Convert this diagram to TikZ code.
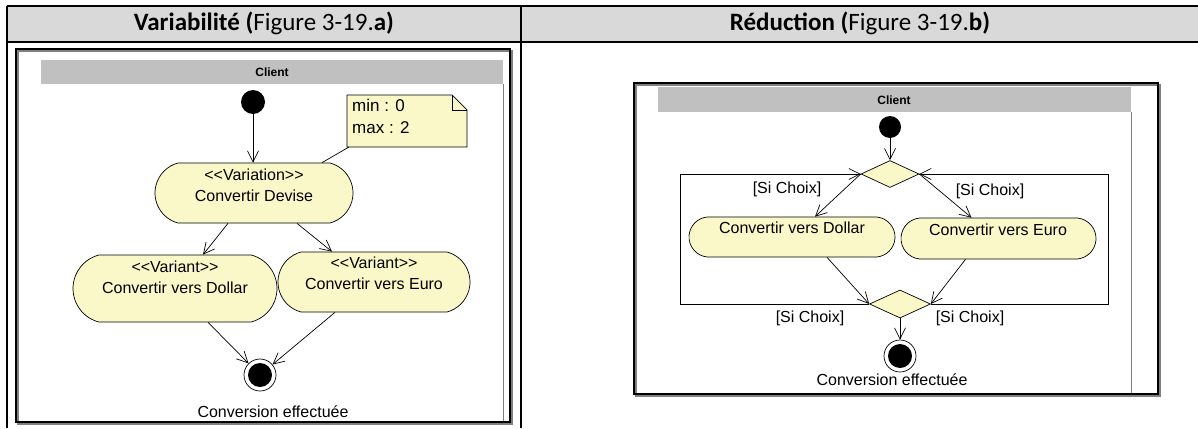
\documentclass[tikz,border=0pt]{standalone}
\usepackage{fontspec}
\setmainfont{Liberation Sans}
\newfontfamily\hdr{Carlito}
\usetikzlibrary{arrows.meta,shapes.geometric,shapes.misc}
\definecolor{hdrgray}{RGB}{217,217,217}
\definecolor{bargray}{RGB}{192,192,192}
\definecolor{actfill}{RGB}{250,248,200}
\definecolor{shadecol}{RGB}{128,128,128}
\newcommand\stereo[1]{<\kern0pt<#1>\kern0pt>}
\begin{document}
\begin{tikzpicture}[x=1pt,y=-1pt,
  act/.style={rounded rectangle, rounded rectangle arc length=150, draw=black, line width=0.7pt, fill=actfill, inner sep=0pt},
  txt/.style={font=\fontsize{16}{21}\selectfont, align=center, inner sep=0pt},
  notetxt/.style={font=\fontsize{17}{22}\selectfont, align=left, inner sep=0pt},
  clienttxt/.style={font=\bfseries\fontsize{12}{14}\selectfont, inner sep=0pt},
  hdrtxt/.style={font=\hdr\fontsize{25}{30}\selectfont, inner sep=0pt},
  arr/.style={line width=0.7pt, -{Straight Barb[length=11pt,width=11pt,line width=0.7pt]}},
  initnode/.style={circle, fill=black, inner sep=0pt, minimum size=24pt},
  finalnode/.style={circle, draw=black, fill=white, line width=0.7pt, inner sep=0pt, minimum size=32pt,
     path picture={\fill[black] (path picture bounding box.center) circle (12pt);}},
  dec/.style={diamond, draw=black, fill=actfill, line width=0.7pt, inner sep=0pt},
  tbl/.style={line width=1.5pt, draw=black},
  panelframe/.style={line width=2pt, draw=black},
  shadowline/.style={line width=1.5pt, draw=shadecol},
  lane/.style={line width=1pt, draw=shadecol},
  thinline/.style={line width=0.7pt, draw=black}
]
\useasboundingbox (0,0) rectangle (1198,428);
\fill[white] (0,0) rectangle (1198,428);

% ---------- table ----------
\fill[hdrgray] (7,6) rectangle (1198,42);
\draw[tbl] (7,6) -- (1198,6);
\draw[tbl] (7,42) -- (1198,42);
\draw[tbl] (7,6) -- (7,428);
\draw[tbl] (521,6) -- (521,428);
\node[hdrtxt] (h1) at (264,23) {\textbf{Variabilité (}Figure 3-19.\textbf{a)}};
\node[hdrtxt] (h2) at (860,23) {\textbf{Réduction (}Figure 3-19.\textbf{b)}};

% ---------- left panel ----------
\draw[shadowline] (18,51) rectangle (512,424);
\draw[panelframe] (16,49) rectangle (510,422);
\fill[bargray] (41,60) rectangle (503,84);
\node[clienttxt] (c1) at (272,72) {Client};
\draw[lane] (503,84) -- (503,421);

\node[initnode] (i1) at (253,102) {};
\node[act, minimum width=198pt, minimum height=60pt] (dev) at (254,193) {};
\node[txt] (devt) at (254,185) {\stereo{Variation}\\Convertir Devise};

\draw[thinline, fill=actfill] (347,95) -- (452,95) -- (467,110) -- (467,147) -- (347,147) -- cycle;
\draw[thinline] (452,95) -- (452,110) -- (467,110);
\node[notetxt, anchor=north west] (nt) at (352,99) {min : 0\\max : 2};
\coordinate (noteA) at (349,147);
\draw[thinline] (noteA) -- ([xshift=68pt]dev.north);

\node[act, minimum width=204pt, minimum height=67pt] (dol) at (175,288.5) {};
\node[txt] (dolt) at (175,277.5) {\stereo{Variant}\\Convertir vers Dollar};
\node[act, minimum width=192pt, minimum height=60pt] (eur) at (374,282) {};
\node[txt] (eurt) at (374,273) {\stereo{Variant}\\Convertir vers Euro};

\node[finalnode] (f1) at (260,375) {};
\node[txt] (f1t) at (273,412) {Conversion effectuée};

\draw[arr] (i1) -- (i1 |- dev.north);
\draw[arr] ([xshift=-26pt]dev.south) -- ([xshift=28pt]dol.north);
\draw[arr] ([xshift=43pt]dev.south) -- ([xshift=-42pt]eur.north);
\draw[arr] ([xshift=33pt]dol.south) -- (f1);
\draw[arr] ([xshift=-39pt]eur.south) -- (f1);

% ---------- right panel ----------
\draw[shadowline] (636,85) rectangle (1160,396);
\draw[panelframe] (634,83) rectangle (1158,394);
\fill[bargray] (658,87) rectangle (1131,112);
\node[clienttxt] (c2) at (894,100) {Client};
\draw[lane] (1131,112) -- (1131,393);

\node[initnode, minimum size=22pt] (i2) at (890,127) {};
\node[dec, minimum width=58pt, minimum height=27pt] (d1) at (890,174) {};
\node[act, rounded rectangle arc length=170, minimum width=206pt, minimum height=40pt] (dol2) at (792,237) {};
\node[txt] (dol2t) at (792,228) {Convertir vers Dollar};
\node[act, rounded rectangle arc length=170, minimum width=195pt, minimum height=41pt] (eur2) at (998.5,238.5) {};
\node[txt] (eur2t) at (998,230) {Convertir vers Euro};
\node[dec, minimum width=61pt, minimum height=28pt] (d2) at (900,304) {};
\node[finalnode] (f2) at (900,356) {};
\node[txt] (f2t) at (892,380) {Conversion effectuée};

\coordinate (rNW) at (680,174);
\coordinate (rNE) at (1108,174);
\draw[thinline] (d1.west) -- (rNW) |- (d2.west);
\draw[thinline] (d2.east) -| (rNE) -- (d1.east);
\draw[arr] ([xshift=-12pt]d1.west) -- (d1.west);
\draw[arr] ([xshift=12pt]d1.east) -- (d1.east);

\draw[arr] (i2) -- (d1);
\draw[arr] (d1.west) -- ([xshift=23pt]dol2.north);
\draw[arr] (d1.east) -- ([xshift=-27pt]eur2.north);
\draw[arr] ([xshift=35pt]dol2.south) -- (d2.west);
\draw[arr] ([xshift=-33pt]eur2.south) -- (d2.east);
\draw[arr] (d2) -- (f2);

\node[txt] (s1) at (787,189) {[Si Choix]};
\node[txt] (s2) at (990,191) {[Si Choix]};
\node[txt] (s3) at (810,318) {[Si Choix]};
\node[txt] (s4) at (970,318) {[Si Choix]};
\end{tikzpicture}
\end{document}
